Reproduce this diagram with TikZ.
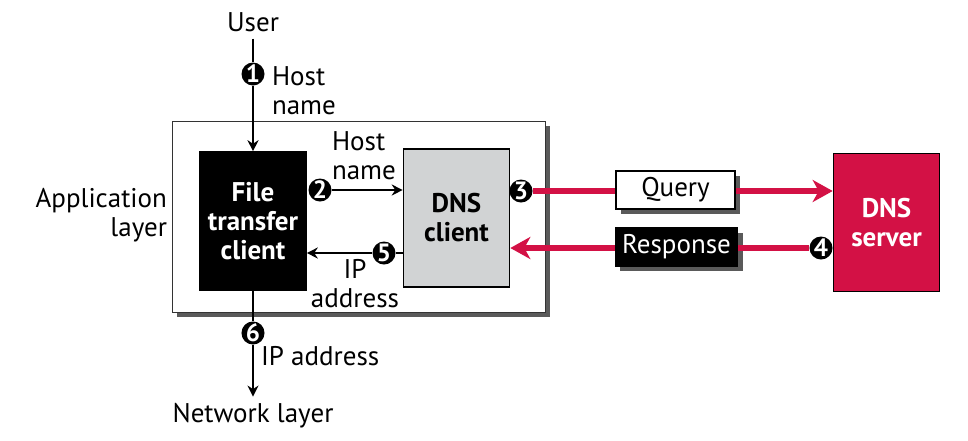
\documentclass[tikz,border=0pt]{standalone}
\usepackage{fontspec}
\setmainfont{PT Sans}
\usetikzlibrary{arrows.meta,shadows}
\definecolor{dnsred}{RGB}{211,17,69}
\definecolor{dnsgray}{RGB}{209,211,212}
\definecolor{shadowgray}{RGB}{90,90,90}

\begin{document}
\begin{tikzpicture}[x=0.5pt,y=-0.5pt]

\tikzstyle{every node}=[font=\fontsize{13.5}{14.5}\selectfont]
\tikzstyle{box}=[draw=black,line width=0.8pt,minimum width=53pt,minimum height=69pt,align=center,font=\fontsize{13.5}{14.5}\selectfont\bfseries]
\tikzstyle{msgbox}=[draw=black,line width=0.8pt,minimum width=59.5pt,minimum height=17.5pt]
\tikzstyle{num}=[circle,fill=black,text=white,inner sep=0pt,minimum size=11.5pt,font=\fontsize{12.5}{12.5}\selectfont\bfseries]
\tikzstyle{thickline}=[line width=1.4pt]
\tikzstyle{blackline}=[thickline,-{Stealth[length=5.5pt,width=5.5pt]}]
\tikzstyle{redline}=[dnsred,line width=2.8pt]
\tikzstyle{redarrow}=[redline,-{Stealth[length=10pt,width=11pt,inset=3pt]}]
\tikzstyle{boxshadow}=[drop shadow={shadow xshift=2.5pt,shadow yshift=-2.5pt,fill=shadowgray,opacity=1}]

\useasboundingbox (0,0) rectangle (968,440);

% application layer
\node[draw=black!80,line width=0.5pt,fill=white,boxshadow,minimum width=186.5pt,minimum height=95.5pt] (appbox) at (358.5,216.5) {};
\node[anchor=east,align=right] (applayer) at (174,215) {Application\\layer};

\node[box,fill=black,text=white] (ftclient) at (253,221) {File\\transfer\\client};
\node[box,fill=dnsgray] (dnsclient) at (456.5,218) {DNS\\client};
\node[box,fill=dnsred,text=white] (dnsserver) at (886.5,222.5) {DNS\\server};

\node[msgbox,fill=white,boxshadow] (query) at (675.5,190) {Query};
\node[msgbox,fill=black,text=white,boxshadow] (response) at (676.5,247) {Response};

% steps
\node[num] (n1) at (253,74) {1};
\node[num] (n2) at (320,190) {2};
\node[num] (n3) at (521,191) {3};
\node[num] (n4) at (821,248) {4};
\node[num] (n5) at (384,253) {5};
\node[num] (n6) at (253,333) {6};

\node (user) at (253,22) {User};
\node[anchor=west,align=left] (hostname1) at (265,91) {Host\\name};
\node[anchor=west,align=left] (hostname2) at (325,156) {Host\\name};
\node[align=center] (ipaddr1) at (355,284) {IP\\address};
\node[anchor=west] (ipaddr2) at (254,356) {IP address};
\node (netlayer) at (253,416) {Network layer};

\draw[thickline] (user) -- (n1);
\draw[blackline] (n1) -- (ftclient);
\draw[blackline] (n2) -- (dnsclient.west |- n2);
\draw[thickline] (dnsclient.west |- n5) -- (n5);
\draw[blackline] (n5) -- (ftclient.east |- n5);
\draw[thickline] (ftclient) -- (n6);
\draw[blackline] (n6) -- (netlayer);

\draw[redline] (n3) -- (query.west |- n3);
\draw[redarrow] (query.east |- n3) -- (dnsserver.west |- n3);
\draw[redline] (n4) -- (response.east |- n4);
\draw[redarrow] (response.west |- n4) -- (dnsclient.east |- n4);

\end{tikzpicture}
\end{document}
